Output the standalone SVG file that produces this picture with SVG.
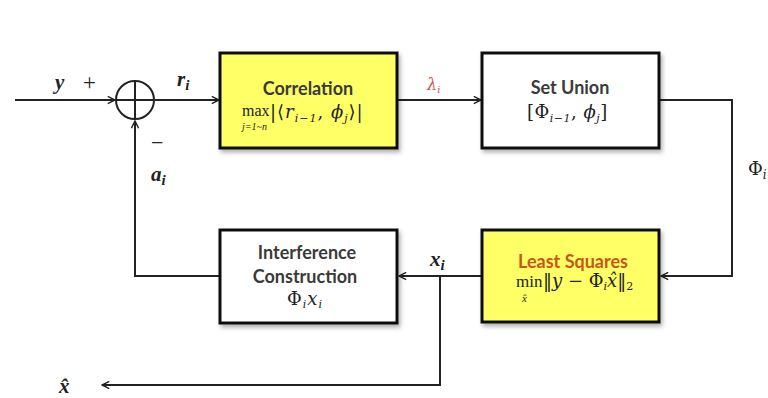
<svg xmlns="http://www.w3.org/2000/svg" width="768" height="398" viewBox="0 0 768 398">
<defs>
<marker id="arr" viewBox="0 0 10 10" refX="9" refY="5" markerWidth="9" markerHeight="9" markerUnits="userSpaceOnUse" orient="auto">
<path d="M1,1 L9,5 L1,9" fill="none" stroke="#222" stroke-width="1.6"/>
</marker>
<filter id="sh" x="-10%" y="-10%" width="125%" height="130%">
<feDropShadow dx="2" dy="3" stdDeviation="2" flood-color="#000" flood-opacity="0.3"/>
</filter>
</defs>
<style>
.box{stroke:#111;stroke-width:3;filter:url(#sh)}
.y{fill:#ffff66}
.w{fill:#fff}
.t{font-family:Lato,"Open Sans","Liberation Sans",sans-serif;font-weight:bold;font-size:18px;fill:#3a3a3a;text-anchor:middle}
.m{font-family:"DejaVu Serif","Liberation Serif",serif;font-size:18px;fill:#222}
.op{font-family:"Liberation Serif","DejaVu Serif",serif;fill:#222}
.s{font-size:11px;font-style:italic}
.i{font-style:italic}
.lbl{font-family:"Liberation Serif","DejaVu Serif",serif;font-style:italic;font-weight:bold;font-size:21px;fill:#222}
.c{fill:none;stroke:#222;stroke-width:2}
</style>
<rect width="768" height="398" fill="#fff"/>
<g id="connectors">
<line class="c" x1="15" y1="100" x2="115" y2="100" marker-end="url(#arr)"/>
<line class="c" x1="155" y1="100" x2="219" y2="100" marker-end="url(#arr)"/>
<line class="c" x1="397" y1="100" x2="481" y2="100" marker-end="url(#arr)"/>
<polyline class="c" points="659,100 732,100 732,276 661,276" marker-end="url(#arr)"/>
<line class="c" x1="482" y1="276" x2="399" y2="276" marker-end="url(#arr)"/>
<polyline class="c" points="220,276 135,276 135,121" marker-end="url(#arr)"/>
<polyline class="c" points="440,276 440,385 102,385" marker-end="url(#arr)"/>
</g>
<g id="sum">
<circle cx="135" cy="100" r="19" fill="none" stroke="#222" stroke-width="2"/>
<line class="c" x1="116" y1="100" x2="154" y2="100"/>
<line class="c" x1="135" y1="81" x2="135" y2="119"/>
</g>
<g id="labels">
<text class="lbl" x="55" y="89">y</text>
<text x="83" y="90" font-family="Liberation Serif,serif" font-size="23" fill="#222">+</text>
<text class="lbl" x="177" y="86">r<tspan font-size="15" dy="4">i</tspan></text>
<text x="151" y="150" font-family="Liberation Serif,serif" font-size="22" fill="#222">−</text>
<text class="lbl" x="151" y="181">a<tspan font-size="15" dy="4">i</tspan></text>
<text x="427" y="90" font-family="'DejaVu Serif',serif" font-style="italic" font-size="16" fill="#d94c4c">λ<tspan font-size="10" dy="3">i</tspan></text>
<text x="748" y="175" font-family="'DejaVu Serif',serif" font-size="18" fill="#222">Φ<tspan font-size="12" dy="4" font-style="italic">i</tspan></text>
<text class="lbl" x="430" y="266">x<tspan font-size="15" dy="4">i</tspan></text>
<text x="59" y="393" font-family="Liberation Serif,'DejaVu Serif',serif" font-style="italic" font-weight="bold" font-size="21" fill="#222">x̂</text>
</g>
<g id="correlation">
<rect class="box y" x="220" y="53" width="177" height="95"/>
<text class="t" x="308" y="95">Correlation</text>
<text class="op" x="242" y="116" font-size="16">max</text>
<text class="op" x="242" y="130" font-size="10" font-style="italic">j=1~n</text>
<text class="m" x="270" y="118" letter-spacing="1">|⟨<tspan class="i">r</tspan><tspan class="s" dy="4">i−1</tspan><tspan dy="-4">, </tspan><tspan class="i">ϕ</tspan><tspan class="s" dy="4">j</tspan><tspan dy="-4">⟩|</tspan></text>
</g>
<g id="setunion">
<rect class="box w" x="482" y="53" width="177" height="95"/>
<text class="t" x="570" y="94">Set Union</text>
<text class="m" x="527" y="118" letter-spacing="0.5">[Φ<tspan class="s" dy="4">i−1</tspan><tspan dy="-4">, </tspan><tspan class="i">ϕ</tspan><tspan class="s" dy="4">j</tspan><tspan dy="-4">]</tspan></text>
</g>
<g id="leastsquares">
<rect class="box y" x="482" y="230" width="177" height="92"/>
<text class="t" x="573" y="268" style="fill:#c8561a">Least Squares</text>
<text class="op" x="516" y="287" font-size="17">min</text>
<text class="op" x="522" y="302" font-size="11" font-style="italic">x̂</text>
<text class="m" x="543" y="287" font-size="17">‖<tspan class="i">y</tspan> − Φ<tspan class="s" dy="3">i</tspan><tspan class="i" dy="-3">x̂</tspan>‖<tspan font-size="11" dy="3">2</tspan></text>
</g>
<g id="interference">
<rect class="box w" x="220" y="230" width="177" height="93"/>
<text class="t" x="307" y="259">Interference</text>
<text class="t" x="305" y="283">Construction</text>
<text class="m" x="287" y="305" font-size="18" letter-spacing="1">Φ<tspan class="s" dy="3">i</tspan><tspan class="i" dy="-3">x</tspan><tspan class="s" dy="3">i</tspan></text>
</g>
</svg>
